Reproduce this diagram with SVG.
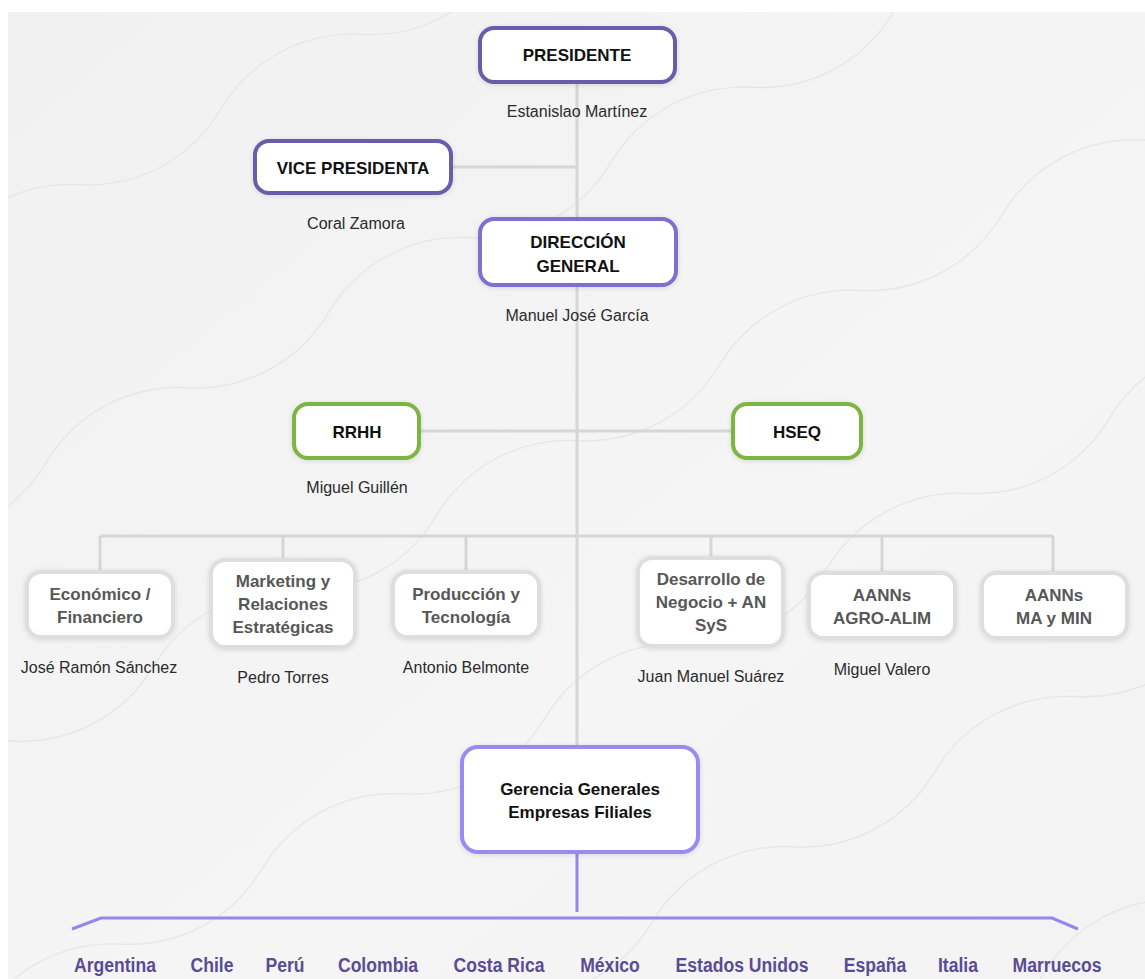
<svg xmlns="http://www.w3.org/2000/svg" width="1145" height="979" viewBox="0 0 1145 979">
<defs>
<linearGradient id="bg" x1="0" y1="0" x2="1" y2="1">
<stop offset="0" stop-color="#f1f1f1"/>
<stop offset="0.6" stop-color="#f5f5f5"/>
<stop offset="1" stop-color="#f3f3f3"/>
</linearGradient>
<filter id="sh" x="-20%" y="-30%" width="140%" height="160%">
<feDropShadow dx="0" dy="1" stdDeviation="2.5" flood-color="#000" flood-opacity="0.12"/>
</filter>
<path id="wave" d="M-200,0 c50,-30 110,-30 160,0 s110,30 160,0 s110,-30 160,0 s110,30 160,0 s110,-30 160,0 s110,30 160,0 s110,-30 160,0 s110,30 160,0 s110,-30 160,0 s110,30 160,0"/>
<clipPath id="bgclip"><rect x="8" y="12" width="1137" height="967"/></clipPath>
</defs>
<style>
.wv{fill:none;stroke:#e6e6e6;stroke-width:1.3}
.con{fill:none;stroke:#d6d6d6;stroke-width:3}
.pcon{fill:none;stroke:#9686ee;stroke-width:3}
.box{fill:#fff;stroke-width:4;filter:url(#sh)}
.p1{stroke:#6a5ba9}
.p2{stroke:#7e70cf}
.p3{stroke:#9b8bf0}
.g{stroke:#7bb542}
.gr{stroke:#dedede}
.t{font-family:"Liberation Sans",Arial,sans-serif;font-weight:bold;font-size:17px;fill:#111;text-anchor:middle}
.tg{font-family:"Liberation Sans",Arial,sans-serif;font-weight:bold;font-size:17px;fill:#575757;text-anchor:middle}
.n{font-family:"Liberation Sans",Arial,sans-serif;font-size:16px;fill:#2b2b2b;text-anchor:middle}
.c{font-family:"Liberation Sans",Arial,sans-serif;font-weight:bold;font-size:17.6px;fill:#5a4c94;text-anchor:middle}
</style>
<rect x="0" y="0" width="1145" height="979" fill="#ffffff"/>
<rect x="8" y="12" width="1137" height="967" fill="url(#bg)"/>
<g clip-path="url(#bgclip)">
<g transform="rotate(-28 570 490)">
<use href="#wave" class="wv" transform="translate(0,-240)"/>
<use href="#wave" class="wv" transform="translate(0,-10)"/>
<use href="#wave" class="wv" transform="translate(0,220)"/>
<use href="#wave" class="wv" transform="translate(0,450)"/>
<use href="#wave" class="wv" transform="translate(0,680)"/>
<use href="#wave" class="wv" transform="translate(0,910)"/>
<use href="#wave" class="wv" transform="translate(0,1140)"/>
</g>
</g>
<g id="connectors">
<line class="con" x1="577" y1="82" x2="577" y2="747"/>
<line class="con" x1="451" y1="167" x2="577" y2="167"/>
<line class="con" x1="419" y1="431" x2="733" y2="431"/>
<line class="con" x1="100" y1="536" x2="1053" y2="536"/>
<line class="con" x1="100" y1="536" x2="100" y2="572"/>
<line class="con" x1="283" y1="536" x2="283" y2="560"/>
<line class="con" x1="466" y1="536" x2="466" y2="572"/>
<line class="con" x1="711" y1="536" x2="711" y2="558"/>
<line class="con" x1="882" y1="536" x2="882" y2="573"/>
<line class="con" x1="1053" y1="536" x2="1053" y2="573"/>
<line class="pcon" x1="577" y1="853" x2="577" y2="912"/>
<polyline class="pcon" points="72,929 101,918 1052,918 1078,929"/>
</g>
<g id="presidente">
<rect class="box p1" x="480" y="28" width="195" height="54" rx="14"/>
<text class="t" x="577" y="61">PRESIDENTE</text>
<text class="n" x="577" y="117">Estanislao Martínez</text>
</g>
<g id="vicepresidenta">
<rect class="box p1" x="255" y="141" width="196" height="52" rx="14"/>
<text class="t" x="353" y="174">VICE PRESIDENTA</text>
<text class="n" x="356" y="229">Coral Zamora</text>
</g>
<g id="direccion">
<rect class="box p2" x="480" y="219" width="196" height="66" rx="14"/>
<text class="t" x="578" y="248">DIRECCIÓN</text>
<text class="t" x="578" y="272">GENERAL</text>
<text class="n" x="577" y="321">Manuel José García</text>
</g>
<g id="rrhh">
<rect class="box g" x="294" y="404" width="125" height="54" rx="14"/>
<text class="t" x="357" y="438">RRHH</text>
<text class="n" x="357" y="493">Miguel Guillén</text>
</g>
<g id="hseq">
<rect class="box g" x="733" y="404" width="128" height="54" rx="14"/>
<text class="t" x="797" y="438">HSEQ</text>
</g>
<g id="economico">
<rect class="box gr" x="27" y="572" width="146" height="65" rx="14"/>
<text class="tg" x="100" y="600">Económico /</text>
<text class="tg" x="100" y="623">Financiero</text>
<text class="n" x="99" y="673">José Ramón Sánchez</text>
</g>
<g id="marketing">
<rect class="box gr" x="211" y="560" width="144" height="87" rx="14"/>
<text class="tg" x="283" y="587">Marketing y</text>
<text class="tg" x="283" y="610">Relaciones</text>
<text class="tg" x="283" y="633">Estratégicas</text>
<text class="n" x="283" y="683">Pedro Torres</text>
</g>
<g id="produccion">
<rect class="box gr" x="393" y="572" width="146" height="65" rx="14"/>
<text class="tg" x="466" y="600">Producción y</text>
<text class="tg" x="466" y="623">Tecnología</text>
<text class="n" x="466" y="673">Antonio Belmonte</text>
</g>
<g id="desarrollo">
<rect class="box gr" x="638" y="558" width="145" height="88" rx="14"/>
<text class="tg" x="711" y="585">Desarrollo de</text>
<text class="tg" x="711" y="608">Negocio + AN</text>
<text class="tg" x="711" y="631">SyS</text>
<text class="n" x="711" y="682">Juan Manuel Suárez</text>
</g>
<g id="agro">
<rect class="box gr" x="809" y="573" width="146" height="65" rx="14"/>
<text class="tg" x="882" y="601">AANNs</text>
<text class="tg" x="882" y="624">AGRO-ALIM</text>
<text class="n" x="882" y="675">Miguel Valero</text>
</g>
<g id="mamin">
<rect class="box gr" x="982" y="573" width="145" height="65" rx="14"/>
<text class="tg" x="1054" y="601">AANNs</text>
<text class="tg" x="1054" y="624">MA y MIN</text>
</g>
<g id="gerencia">
<rect class="box p3" x="462" y="747" width="236" height="105" rx="16"/>
<text class="t" x="580" y="795">Gerencia Generales</text>
<text class="t" x="580" y="818">Empresas Filiales</text>
</g>
<g id="paises" transform="matrix(1 0 0 1.18 0 -174.96)">
<text class="c" x="115" y="972">Argentina</text>
<text class="c" x="212" y="972">Chile</text>
<text class="c" x="285" y="972">Perú</text>
<text class="c" x="378" y="972">Colombia</text>
<text class="c" x="499" y="972">Costa Rica</text>
<text class="c" x="610" y="972">México</text>
<text class="c" x="742" y="972">Estados Unidos</text>
<text class="c" x="875" y="972">España</text>
<text class="c" x="958" y="972">Italia</text>
<text class="c" x="1057" y="972">Marruecos</text>
</g>
</svg>
